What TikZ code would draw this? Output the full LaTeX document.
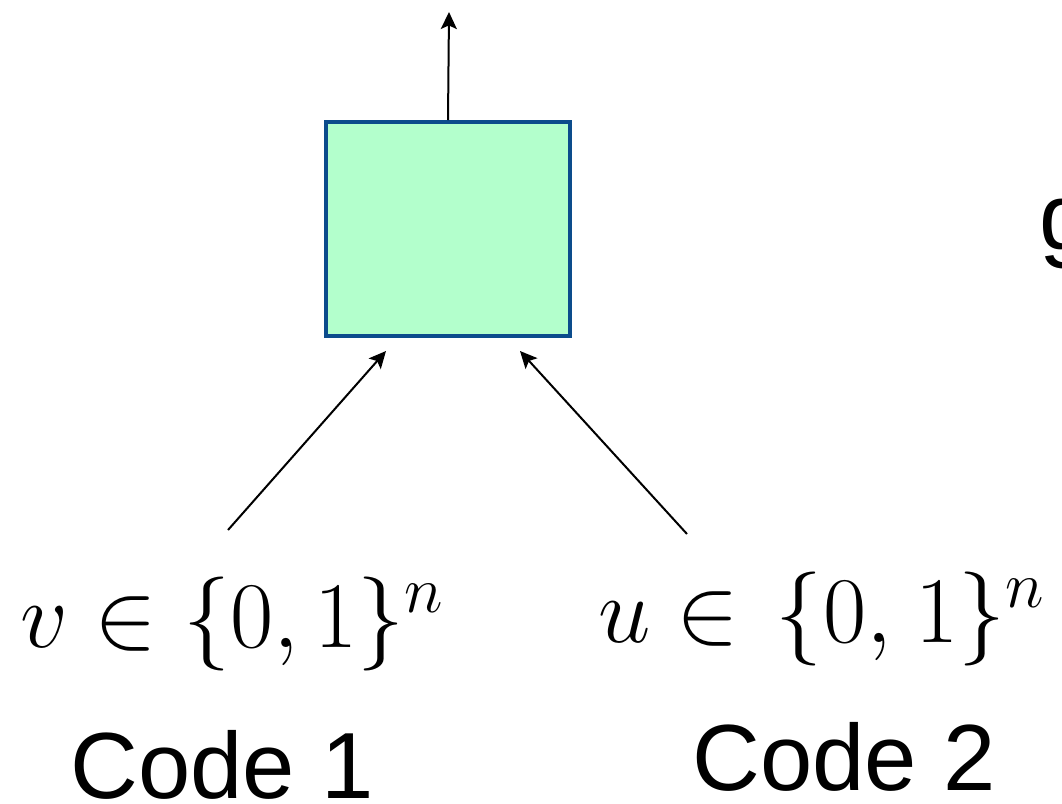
\documentclass[tikz,border=0pt]{standalone}
\usepackage{fix-cm}
\usepackage{fontspec}
\setsansfont{Liberation Sans}
\usetikzlibrary{arrows.meta,positioning}
\definecolor{gatefill}{RGB}{179,255,204}
\definecolor{gateedge}{RGB}{12,76,140}

\begin{document}
\begin{tikzpicture}[
      x=0.5pt, y=-0.5pt,
      gate/.style={draw=gateedge, fill=gatefill, line width=2pt,
                   minimum width=122pt, minimum height=107pt, inner sep=0pt},
      lbl/.style={inner sep=0pt, anchor=base west, font=\fontsize{47}{56}\selectfont},
      code/.style={inner sep=0pt, anchor=base west, font=\sffamily\fontsize{47}{56}\selectfont},
      arr/.style={-{Stealth[length=8.5pt, width=8pt, inset=1.8pt]}, line width=1pt}
    ]
    \useasboundingbox (0,0) rectangle (1062,804);

    \node[gate] (box) at (448,229) {};

    \node[lbl] (vin) at (20,647) {$v\in\{0,1\}^n$};
    \node[lbl] (uin) at (598,642) {$u\in\mkern2mu\{0,\mkern1.5mu 1\}^n$};
    \node[code] (code1) at (70,798) {Code 1};
    \node[code] (code2) at (692,790) {Code 2};
    \node[code] (cut) at (1039,249) {g};

    \coordinate (out) at (449,12);
    \coordinate (vtail) at (228,530);
    \coordinate (vhead) at (386,351);
    \coordinate (utail) at (687,534);
    \coordinate (uhead) at (520,351);

    \draw[arr] (box.north) -- (out);
    \draw[arr] (vtail) -- (vhead);
    \draw[arr] (utail) -- (uhead);
  \end{tikzpicture}
\end{document}
